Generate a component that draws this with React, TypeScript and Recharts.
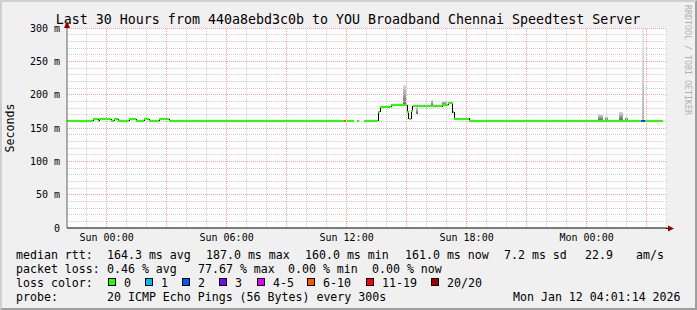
import React from "react";
import {
  LineChart,
  Line,
  XAxis,
  YAxis,
  CartesianGrid,
  ReferenceLine,
  ReferenceArea,
} from "recharts";

// median rtt, stepped: segment i runs from segEdges[i] to segEdges[i + 1] (hours from Sun 00:00)
const segEdges = [
  -1.98, -0.68, -0.43, -0.38, 0.22, 0.37, 0.57, 1.12, 1.47, 1.87, 2.12, 2.62, 3.12, 11.87, 11.97, 12.0,
  12.37, 12.52, 12.62, 12.87, 13.57, 13.67, 14.22, 15.02, 15.1, 15.22, 15.3, 16.77, 17.07, 17.3, 17.37,
  18.12, 21.57, 22.37, 24.57, 24.87, 25.57, 26.32, 26.72, 26.82, 26.92, 27.82,
];
const segValue: (number | null)[] = [
  161, 163, 161, 163, 161, 163, 161, 163, 161, 163, 161, 163, 161, 161, null, 161, null, 161, null, 161,
  174.5, 182, 184, 174, 164, 175.5, 183, 185, 187, 173.5, 164, 161, 160, 161, 160, 161, 160, 161, 161, 161,
  161,
];
// index into lossLabels
const segLoss = [
  0, 0, 0, 0, 0, 0, 0, 0, 0, 0, 0, 0, 0, 5, 0, 0, 0, 0, 0, 0, 0, 0, 0, 0, 0, 0, 0, 0, 0, 0, 0, 0, 0, 0, 0,
  0, 0, 0, 2, 3, 0,
];

const lossLabels = ["0", "1", "2", "3", "4-5", "6-10", "11-19", "20/20"];
const lossColors = ["#26ff00", "#00b8ff", "#0059ff", "#7e00ff", "#dd00ff", "#ff5500", "#ff0000", "#a10000"];

// smoke (spread of the pings)
const smokeStart = [14.82, 15.47, 16.22, 16.77, 24.57, 24.92, 25.62, 25.92, 26.8];
const smokeEnd = [14.97, 15.57, 16.32, 17.02, 24.82, 25.07, 25.82, 26.07, 26.85];
const smokeLow = [184, 171, 184, 185, 162, 162, 162, 162, 161];
const smokeHigh = [214, 182, 192, 190, 170, 167, 174, 166, 300];

const yTicks = [0, 50, 100, 150, 200, 250, 300];
const xTicks = [0, 6, 12, 18, 24];
const xTickLabels = ["Sun 00:00", "Sun 06:00", "Sun 12:00", "Sun 18:00", "Mon 00:00"];
const xDomain = [-1.98, 28.02];

const title = "Last 30 Hours from 440a8ebd3c0b to YOU Broadband Chennai Speedtest Server";
const rttStats = ["164.3 ms avg", "187.0 ms max", "160.0 ms min", "161.0 ms now", "7.2 ms sd", "22.9", "am/s"];
const lossStats = ["0.46 % avg", "77.67 % max", "0.00 % min", "0.00 % now"];
const probeText = "20 ICMP Echo Pings (56 Bytes) every 300s";
const stampText = "Mon Jan 12 04:01:14 2026";

const MONO = "'DejaVu Sans Mono', monospace";

type Pt = { h: number; v: number | null };

// black stepped line (its verticals show, horizontals hide under the colour)
function buildStep(): Pt[] {
  const out: Pt[] = [];
  segValue.forEach((v, i) => {
    out.push({ h: segEdges[i], v });
    const next = segValue[i + 1];
    if (v != null && (next === undefined || next === null)) out.push({ h: segEdges[i + 1], v });
  });
  return out;
}

// horizontal pieces only, per loss colour
function buildLoss(k: number): Pt[] {
  const out: Pt[] = [];
  segValue.forEach((v, i) => {
    if (v == null || segLoss[i] !== k) return;
    out.push({ h: segEdges[i], v }, { h: segEdges[i + 1], v }, { h: segEdges[i + 1], v: null });
  });
  return out;
}

const minorY: number[] = [];
for (let v = 10; v <= 300; v += 10) minorY.push(v);
const minorX: number[] = [];
for (let h = -1; h <= 28; h++) minorX.push(h);

export default function App() {
  const stepData = buildStep();
  const usedLoss = lossLabels.map((_, k) => k).filter((k) => segLoss.some((l, i) => l === k && segValue[i] != null));

  const rttX = [107, 206, 305, 405, 504, 585, 636];
  const lossX = [107, 198, 288, 372];
  const legendBoxX = [108, 145, 182, 219, 257, 307, 366, 431];

  return (
    <div style={{ position: "absolute", left: 0, top: 0, width: 697, height: 310, background: "#f0f0f0" }}>
      <div
        style={{
          position: "absolute",
          inset: 0,
          boxSizing: "border-box",
          borderTop: "2px solid #cfcfcf",
          borderLeft: "2px solid #cfcfcf",
          borderRight: "2px solid #9e9e9e",
          borderBottom: "2px solid #9e9e9e",
        }}
      />
      <div style={{ position: "absolute", left: 0, top: 0 }}>
        <LineChart width={697} height={310} margin={{ top: 28, right: 30, left: 7, bottom: 62 }}>
          <defs>
            <linearGradient id="smokeGrad" x1="0" y1="0" x2="0" y2="1">
              <stop offset="0%" stopColor="#d8d8d8" />
              <stop offset="100%" stopColor="#6a6a6a" />
            </linearGradient>
          </defs>
          <CartesianGrid fill="#ffffff" horizontal={false} vertical={false} />
          <XAxis
            dataKey="h"
            type="number"
            domain={xDomain}
            allowDataOverflow
            ticks={xTicks}
            interval={0}
            tickFormatter={(h) => xTickLabels[xTicks.indexOf(h)] ?? ""}
            height={20}
            tickLine={false}
            tickSize={2}
            tickMargin={4}
            axisLine={{ stroke: "#000" }}
            tick={{ fontFamily: MONO, fontSize: 10, fill: "#000" }}
          />
          <YAxis
            type="number"
            domain={[0, 300]}
            allowDataOverflow
            ticks={yTicks}
            interval={0}
            tickFormatter={(v) => (v === 0 ? "0" : `${v} m`)}
            width={60}
            tickLine={false}
            tickSize={4}
            tickMargin={3}
            axisLine={{ stroke: "#606060" }}
            tick={{ fontFamily: MONO, fontSize: 10, fill: "#000" }}
          />
          {minorY.map((v) => (
            <ReferenceLine
              key={"y" + v}
              y={v}
              stroke={v % 50 === 0 ? "#f0a0a0" : "#cfcfcf"}
              strokeDasharray="1 1"
              shapeRendering="crispEdges"
            />
          ))}
          {minorX.map((h) => (
            <ReferenceLine
              key={"x" + h}
              x={h}
              stroke={h % 3 === 0 ? "#f0a0a0" : "#cfcfcf"}
              strokeDasharray="1 1"
              shapeRendering="crispEdges"
            />
          ))}
          {smokeStart.map((s, i) => (
            <ReferenceArea
              key={"s" + i}
              x1={s}
              x2={smokeEnd[i]}
              y1={smokeLow[i]}
              y2={smokeHigh[i]}
              fill="url(#smokeGrad)"
              fillOpacity={1}
              stroke="none"
              ifOverflow="hidden"
            />
          ))}
          <Line
            data={stepData}
            dataKey="v"
            type="stepAfter"
            stroke="#000"
            strokeWidth={1}
            dot={false}
            activeDot={false}
            connectNulls={false}
            isAnimationActive={false}
            shapeRendering="crispEdges"
          />
          {usedLoss.map((k) => (
            <Line
              key={"l" + k}
              data={buildLoss(k)}
              dataKey="v"
              type="linear"
              stroke={lossColors[k]}
              strokeWidth={2}
              dot={false}
              activeDot={false}
              connectNulls={false}
              isAnimationActive={false}
              shapeRendering="crispEdges"
            />
          ))}
        </LineChart>
      </div>
      <svg
        width={697}
        height={310}
        style={{ position: "absolute", left: 0, top: 0, pointerEvents: "none" }}
        fontFamily={MONO}
      >
        <text x={348} y={23.5} fontSize={13.3} textAnchor="middle" fill="#000">
          {title}
        </text>
        <text transform="translate(14,128) rotate(-90)" fontSize={11.6} textAnchor="middle" fill="#000">
          Seconds
        </text>
        <text transform="translate(685,5) rotate(90)" fontSize={8.3} fill="#b0b0b0">
          RRDTOOL / TOBI OETIKER
        </text>
        {/* axis arrows */}
        <polygon points="67,21 64,28 70,28" fill="#8b0000" />
        <line x1={666} y1={228.5} x2={669} y2={228.5} stroke="#000" />
        <polygon points="674,228.5 668,225.5 668,231.5" fill="#8b0000" />

        <g fontSize={11.6} fill="#000" style={{ whiteSpace: "pre" }}>
          <text x={16} y={258.5}>median rtt:</text>
          {rttStats.map((t, i) => (
            <text key={"r" + i} x={rttX[i]} y={258.5}>
              {t}
            </text>
          ))}
          <text x={16} y={272.5}>packet loss:</text>
          {lossStats.map((t, i) => (
            <text key={"p" + i} x={lossX[i]} y={272.5}>
              {t}
            </text>
          ))}
          <text x={16} y={286.5}>loss color:</text>
          {lossLabels.map((t, i) => (
            <g key={"c" + i}>
              <rect x={legendBoxX[i] + 0.5} y={278.5} width={7} height={7} fill={lossColors[i]} stroke="#000" />
              <text x={legendBoxX[i] + 16} y={286.5}>
                {t}
              </text>
            </g>
          ))}
          <text x={16} y={300.5}>probe:</text>
          <text x={107} y={300.5}>{probeText}</text>
          <text x={513} y={300.5}>{stampText}</text>
        </g>
      </svg>
    </div>
  );
}
